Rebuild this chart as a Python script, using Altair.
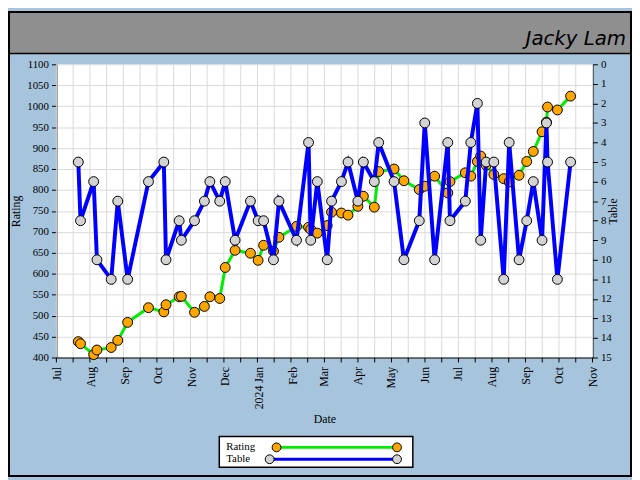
import altair as alt
import pandas as pd

# ---------------- data ----------------
dates = [
    "2023-07-21", "2023-07-23", "2023-08-04", "2023-08-07", "2023-08-20", "2023-08-26",
    "2023-09-04", "2023-09-23", "2023-10-07", "2023-10-09", "2023-10-21", "2023-10-23",
    "2023-11-04", "2023-11-13", "2023-11-18", "2023-11-27", "2023-12-02", "2023-12-11",
    "2023-12-25", "2024-01-01", "2024-01-06", "2024-01-15", "2024-01-20", "2024-02-05",
    "2024-02-16", "2024-02-18", "2024-02-24", "2024-03-04", "2024-03-08", "2024-03-17",
    "2024-03-23", "2024-04-01", "2024-04-06", "2024-04-16", "2024-04-20", "2024-05-04",
    "2024-05-13", "2024-05-27", "2024-06-01", "2024-06-10", "2024-06-22", "2024-06-24",
    "2024-07-08", "2024-07-13", "2024-07-19", "2024-07-22", "2024-07-27", "2024-08-03",
    "2024-08-12", "2024-08-17", "2024-08-26", "2024-09-02", "2024-09-08", "2024-09-16",
    "2024-09-20", "2024-09-21", "2024-09-30", "2024-10-12",
]
rating = [
    438, 433, 407, 418, 424, 441,
    484, 519, 509, 526, 545, 546,
    508, 522, 545, 541, 615, 656,
    649, 632, 668, 654, 687, 713,
    711, 706, 697, 715, 747, 745,
    740, 761, 785, 759, 844, 850,
    822, 801, 809, 833, 793, 820,
    841, 833, 868, 881, 859, 837,
    827, 819, 835, 868, 892, 939,
    962, 998, 991, 1024,
]
table = [
    5, 8, 6, 10, 11, 7,
    11, 6, 5, 10, 8, 9,
    8, 7, 6, 7, 6, 9,
    7, 8, 8, 10, 7, 9,
    4, 9, 6, 10, 7, 6,
    5, 7, 5, 6, 4, 6,
    10, 8, 3, 10, 4, 8,
    7, 4, 2, 9, 5, 5,
    11, 4, 10, 8, 6, 9,
    3, 5, 11, 5,
]
series_names = ["Rating", "Table"]
rating_ticks = list(range(400, 1101, 50))
table_ticks = list(range(0, 16))
author = "Jacky Lam"

# ---------------- layout ----------------
W, H = 543, 297                  # plot area
PL, PT, PR, PB = 49, 54, 40, 121  # padding around plot area

FONT = "Liberation Serif"
BG = "#a7c4dd"
HEADER = "#8f8f8f"
ORANGE = "#ffa500"
GREEN = "#00ee00"
BLUE = "#0000ff"
GRAY = "#d3d3d3"
GRID = "#d9d9d9"

df = pd.DataFrame({"Date": pd.to_datetime(dates), "Rating": rating, "Table": table})
grid_df = pd.DataFrame({"g": pd.date_range("2023-07-01", "2024-11-01", periods=33)})
one = pd.DataFrame({"a": [0]})

x_scale = alt.Scale(domain=[alt.DateTime(year=2023, month=7, date=1),
                            alt.DateTime(year=2024, month=11, date=1)])
month_values = [alt.DateTime(year=2023 + (6 + i) // 12, month=(6 + i) % 12 + 1, date=1)
                for i in range(17)]
x_axis = alt.Axis(
    values=month_values,
    labelExpr="month(datum.value) == 0 ? year(datum.value) + ' Jan' : timeFormat(datum.value, '%b')",
    labelAngle=270, labelAlign="right", labelBaseline="middle", labelPadding=9,
    ticks=False, grid=False, title="Date", titlePadding=5,
    domainColor="black", labelFontSize=12, titleFontSize=12,
)
X = alt.X("Date:T", scale=x_scale, axis=x_axis)

r_axis = alt.Axis(values=rating_ticks, format="d", orient="left", grid=True, gridColor=GRID,
                  tickSize=5, tickColor="black", domainColor="black", title="Rating",
                  labelFontSize=11, titleFontSize=12, labelPadding=3, titlePadding=4)
t_axis = alt.Axis(values=table_ticks, format="d", orient="right", grid=False,
                  tickSize=5, tickColor="black", domainColor="black", title="Table",
                  titleAngle=270, labelFontSize=11, titleFontSize=12, labelPadding=3,
                  titlePadding=8)
r_scale = alt.Scale(domain=[400, 1100], nice=False, zero=False)
t_scale = alt.Scale(domain=[0, 15], reverse=True, nice=False, zero=False)

# ---------------- decoration ----------------
header = alt.Chart(one).mark_rect(fill=HEADER, strokeWidth=0).encode(
    x=alt.value(-PL), x2=alt.value(W + PR), y=alt.value(-PT), y2=alt.value(-11))
header_line = alt.Chart(one).mark_rule(color="black", strokeWidth=1.5).encode(
    x=alt.value(-PL), x2=alt.value(W + PR), y=alt.value(-11))
border = alt.Chart(one).mark_rect(fill=None, stroke="black", strokeWidth=2).encode(
    x=alt.value(-PL + 1), x2=alt.value(W + PR - 1), y=alt.value(-PT + 1), y2=alt.value(H + PB - 1))
author_text = alt.Chart(one).mark_text(
    align="right", baseline="alphabetic", font="DejaVu Sans", fontWeight=200,
    fontStyle="italic", fontSize=20, color="black").encode(
    x=alt.value(W + PR - 6), y=alt.value(-20), text=alt.value(author))

vgrid = alt.Chart(grid_df).mark_rule(color=GRID, strokeWidth=1).encode(
    x=alt.X("g:T", scale=x_scale, axis=x_axis), y=alt.value(0), y2=alt.value(H))
xticks = alt.Chart(grid_df).mark_rule(color="black", strokeWidth=1).encode(
    x=alt.X("g:T", scale=x_scale, axis=x_axis), y=alt.value(H), y2=alt.value(H + 5))

# ---------------- series ----------------
rating_line = alt.Chart(df).mark_line(color=GREEN, strokeWidth=3).encode(
    x=X, y=alt.Y("Rating:Q", scale=r_scale, axis=r_axis))
rating_pts = alt.Chart(df).mark_circle(
    fill=ORANGE, stroke="black", strokeWidth=1, size=100, opacity=1).encode(
    x=X, y=alt.Y("Rating:Q", scale=r_scale, axis=r_axis))
table_line = alt.Chart(df).mark_line(color=BLUE, strokeWidth=4).encode(
    x=X, y=alt.Y("Table:Q", scale=t_scale, axis=t_axis))
table_pts = alt.Chart(df).mark_circle(
    fill=GRAY, stroke="black", strokeWidth=1, size=100, opacity=1).encode(
    x=X, y=alt.Y("Table:Q", scale=t_scale, axis=t_axis))

rating_layer = alt.layer(rating_line, rating_pts)
table_layer = alt.layer(table_line, table_pts)

# ---------------- legend ----------------
LX0, LX1, LY0, LY1 = 165, 361, 377, 408
ry, ty = 388, 400
leg_box = alt.Chart(one).mark_rect(fill="white", stroke="black", strokeWidth=1.5).encode(
    x=alt.value(LX0), x2=alt.value(LX1), y=alt.value(LY0), y2=alt.value(LY1))
leg_r_text = alt.Chart(one).mark_text(align="left", baseline="middle", font=FONT,
                                      fontSize=11, color="black").encode(
    x=alt.value(LX0 + 7), y=alt.value(ry), text=alt.value(series_names[0]))
leg_t_text = alt.Chart(one).mark_text(align="left", baseline="middle", font=FONT,
                                      fontSize=11, color="black").encode(
    x=alt.value(LX0 + 7), y=alt.value(ty), text=alt.value(series_names[1]))
leg_r_line = alt.Chart(one).mark_rule(color=GREEN, strokeWidth=3).encode(
    x=alt.value(223), x2=alt.value(345), y=alt.value(ry))
leg_t_line = alt.Chart(one).mark_rule(color=BLUE, strokeWidth=3).encode(
    x=alt.value(216), x2=alt.value(345), y=alt.value(ty))
leg_r_p1 = alt.Chart(one).mark_circle(fill=ORANGE, stroke="black", strokeWidth=1, size=80, opacity=1).encode(
    x=alt.value(223), y=alt.value(ry))
leg_r_p2 = alt.Chart(one).mark_circle(fill=ORANGE, stroke="black", strokeWidth=1, size=80, opacity=1).encode(
    x=alt.value(345), y=alt.value(ry))
leg_t_p1 = alt.Chart(one).mark_circle(fill=GRAY, stroke="black", strokeWidth=1, size=80, opacity=1).encode(
    x=alt.value(216), y=alt.value(ty))
leg_t_p2 = alt.Chart(one).mark_circle(fill=GRAY, stroke="black", strokeWidth=1, size=80, opacity=1).encode(
    x=alt.value(345), y=alt.value(ty))

chart = alt.layer(
    header, header_line, author_text, vgrid, xticks,
    rating_layer, table_layer,
    leg_box, leg_r_line, leg_t_line, leg_r_p1, leg_r_p2, leg_t_p1, leg_t_p2,
    leg_r_text, leg_t_text, border,
).resolve_scale(y="independent").properties(
    width=W, height=H,
    autosize=alt.AutoSizeParams(type="none"),
    padding={"left": PL, "top": PT, "right": PR, "bottom": PB},
    background=BG,
).configure_view(fill="white", stroke=None).configure_axis(
    labelFont=FONT, titleFont=FONT, labelColor="black", titleColor="black",
    titleFontWeight="normal",
)

chart.save("out.html", embed_options={"renderer": "svg", "actions": False})
